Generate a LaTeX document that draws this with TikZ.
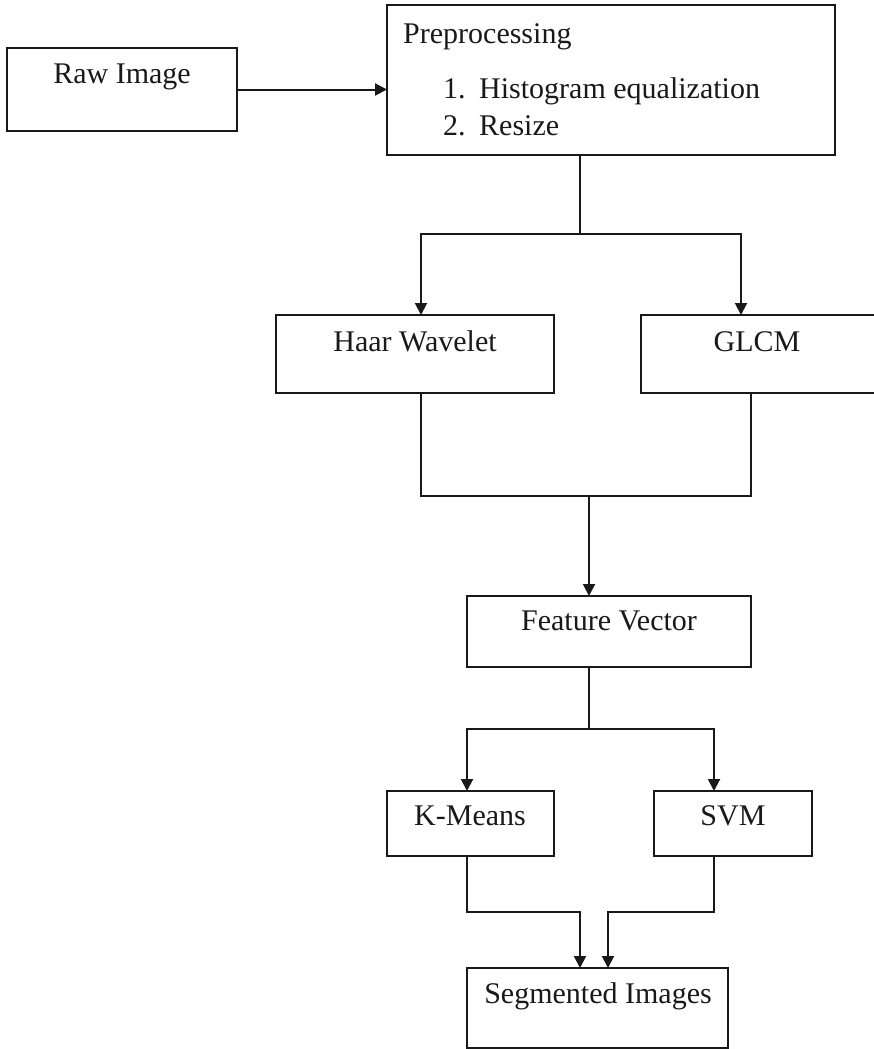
\documentclass[tikz,border=0pt]{standalone}
\usepackage{fontspec}
\setmainfont{Liberation Serif}
\usetikzlibrary{arrows.meta}
\begin{document}
\begin{tikzpicture}[x=1pt,y=-1pt,
  box/.style={draw=black!90, line width=2pt, inner sep=0pt, outer sep=0pt, anchor=north west},
  lbl/.style={font=\fontsize{30}{36}\selectfont, inner sep=0pt, text=black!90},
  conn/.style={draw=black!90, line width=2pt},
  arr/.style={conn, -{Triangle[width=12pt,length=12pt]}}]
\useasboundingbox (0,0) rectangle (873,1049);

% boxes
\node[box, minimum width=230pt, minimum height=83pt]  (raw)  at (7,48)    {};
\node[box, minimum width=448pt, minimum height=150pt] (pre)  at (387,5)   {};
\node[box, minimum width=278pt, minimum height=78pt]  (haar) at (276,315) {};
\node[box, minimum width=236pt, minimum height=78pt]  (glcm) at (641,315) {};
\node[box, minimum width=284pt, minimum height=71pt]  (feat) at (467,596) {};
\node[box, minimum width=167pt, minimum height=65pt]  (km)   at (387,791) {};
\node[box, minimum width=158pt, minimum height=65pt]  (svm)  at (654,791) {};
\node[box, minimum width=261pt, minimum height=80pt]  (seg)  at (467,968) {};

% texts
\node[lbl, anchor=base] (trawt) at (122,83) {Raw Image};
\node[lbl, anchor=base west] (tpre) at (403,44) {Preprocessing};
\node[lbl, anchor=base west] (tn1) at (443,98) {1.};
\node[lbl, anchor=base west] (ti1) at (479,98) {Histogram equalization};
\node[lbl, anchor=base west] (tn2) at (443,135) {2.};
\node[lbl, anchor=base west] (ti2) at (479,135) {Resize};
\node[lbl, anchor=base] (thaar) at (415,351) {Haar Wavelet};
\node[lbl, anchor=base] (tglcm) at (757,351) {GLCM};
\node[lbl, anchor=base] (tfeat) at (609,630) {Feature Vector};
\node[lbl, anchor=base] (tkm) at (470,825) {K-Means};
\node[lbl, anchor=base] (tsvm) at (733,825) {SVM};
\node[lbl, anchor=base] (tseg) at (598,1003) {Segmented Images};

% junction coordinates
\coordinate (j1) at (580,234);
\coordinate (hin) at (421,315);
\coordinate (gin) at (741,315);
\coordinate (hout) at (421,393);
\coordinate (gout) at (751,393);
\coordinate (j2) at (589,496);
\coordinate (j3) at (589,729);
\coordinate (kin) at (467,791);
\coordinate (sin) at (714,791);
\coordinate (sa) at (580,968);
\coordinate (sb) at (608,968);

% connectors
\draw[arr] (raw.east) -- (raw.east -| pre.west);
\draw[conn] (pre.south -| j1) -- (j1);
\draw[arr] (j1) -| (haar.north -| hin);
\draw[arr] (j1) -| (glcm.north -| gin);
\draw[conn] (haar.south -| hout) |- (j2);
\draw[conn] (glcm.south -| gout) |- (j2);
\draw[arr] (j2) -- (feat.north -| j2);
\draw[conn] (feat.south -| j3) -- (j3);
\draw[arr] (j3) -| (km.north -| kin);
\draw[arr] (j3) -| (svm.north -| sin);
\draw[arr] (km.south -| kin) -- ++(0,56) -| (seg.north -| sa);
\draw[arr] (svm.south -| sin) -- ++(0,56) -| (seg.north -| sb);
\end{tikzpicture}
\end{document}
